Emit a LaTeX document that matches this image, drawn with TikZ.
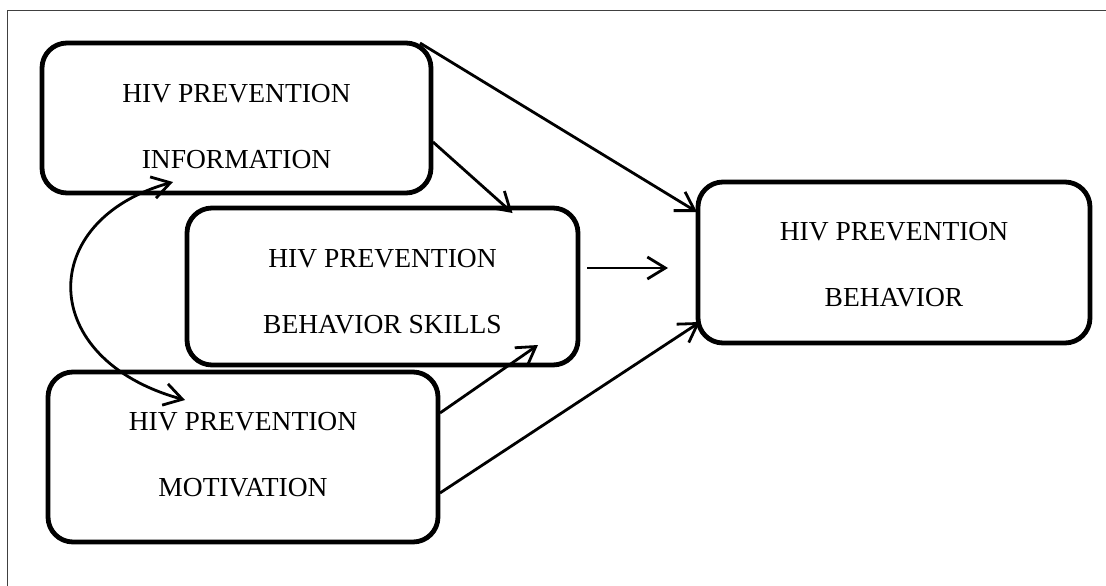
\documentclass[tikz,border=0pt]{standalone}
\usepackage{fontspec}
\setmainfont{Liberation Serif}
\usetikzlibrary{arrows.meta,calc}
\newcommand{\upstrut}[1]{\rule{0pt}{#1}}
\newcommand{\dnstrut}[1]{\rule[-#1]{0pt}{#1}}
\begin{document}
\begin{tikzpicture}[x=1pt,y=-1pt,
  box/.style={draw=black,line width=4.8pt,rounded corners=25pt,outer sep=0pt,inner sep=0pt,
    align=center,font=\fontsize{27.5}{66}\selectfont},
  arr/.style={line width=2.8pt,-{Straight Barb[length=18pt,width=22pt,line width=2.8pt]}},
  dbl/.style={line width=2.8pt,{Straight Barb[length=18pt,width=22pt,line width=2.8pt]}-{Straight Barb[length=18pt,width=22pt,line width=2.8pt]}},
  frame/.style={draw=black!75,line width=1.8pt}]
\useasboundingbox (0,0) rectangle (1106,586);
\draw[frame] (7.5,586) -- (7.5,10.5) -- (1106,10.5);
\node[box,minimum width=389pt,minimum height=150pt] (info) at (236.5,118) {\upstrut{34.6pt}HIV PREVENTION\\INFORMATION};
\node[box,minimum width=391pt,minimum height=157pt] (skills) at (382.5,286.5) {\upstrut{27.6pt}HIV PREVENTION\\BEHAVIOR SKILLS};
\node[box,minimum width=390pt,minimum height=170pt] (motiv) at (243,457) {HIV PREVENTION\\MOTIVATION\dnstrut{6pt}};
\node[box,minimum width=392pt,minimum height=161pt] (beh) at (894,262.5) {\upstrut{22.6pt}HIV PREVENTION\\BEHAVIOR};
\draw[arr] ($(info.north east)+(-11,0)$) -- ($(beh.north west)+(-1,30)$);
\draw[arr] ($(info.east)+(2,24)$) -- ($(skills.north)+(130,5)$);
\draw[arr] ($(skills.east)+(9,-18.5)$) -- ($(beh.west)+(-30,5.5)$);
\draw[arr] ($(motiv.east)+(2,-44)$) -- ($(skills.south east)+(-40,-20)$);
\draw[arr] ($(motiv.east)+(2,36)$) -- ($(beh.south west)+(2,-21)$);
\draw[dbl] ($(info.south)+(-63.5,-11)$) .. controls (36,220) and (36,359) .. ($(motiv.north)+(-58,28)$);
\end{tikzpicture}
\end{document}
